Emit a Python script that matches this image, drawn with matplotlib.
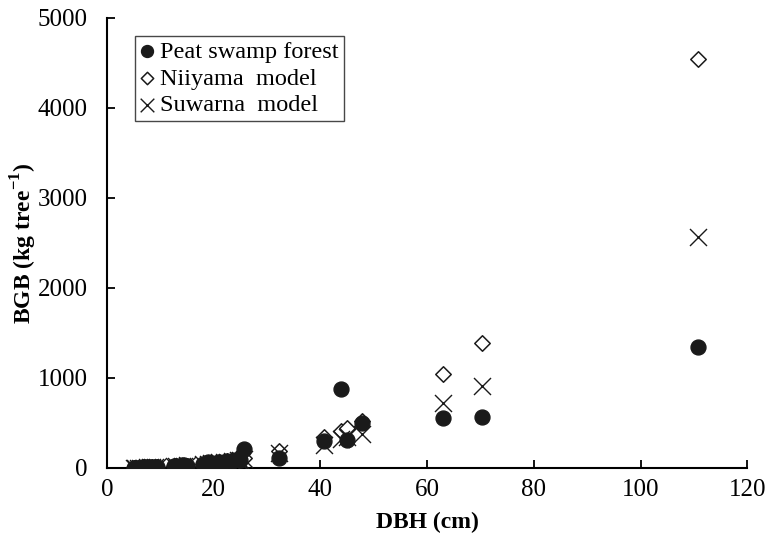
import matplotlib.pyplot as plt

# DBH (cm) of sampled trees
dbh = [5.0, 5.3, 5.8, 6.2, 6.8, 7.0, 7.5, 8.0, 8.4, 9.0, 9.4,
       12.5, 13.0, 14.0, 14.5, 15.0,
       18.0, 19.0, 19.5, 20.5, 21.0, 22.0, 22.5, 23.5, 24.5, 25.0, 25.7,
       32.3, 40.7, 43.9, 45.0, 47.7, 62.9, 70.2, 110.7]

# BGB (kg tree-1)
peat = [3, 4, 5, 4, 6, 7, 6, 9, 8, 12, 10,
        22, 25, 28, 30, 26,
        45, 70, 60, 55, 72, 65, 80, 78, 95, 85, 208,
        115, 303, 880, 311, 497, 560, 567, 1344]
niiyama = [1.6, 1.8, 2.3, 2.7, 3.5, 3.7, 4.5, 5.3, 6.0, 7.1, 8.0,
           17, 18, 22, 24, 27,
           42, 49, 52, 59, 63, 71, 75, 84, 94, 99, 106,
           190, 345, 411, 441, 520, 1045, 1390, 4540]
suwarna = [2.4, 2.7, 3.4, 3.9, 4.8, 5.1, 6.0, 6.9, 7.7, 9.0, 10,
           19, 21, 24, 26, 28,
           43, 48, 51, 57, 61, 67, 71, 78, 86, 90, 96,
           167, 256, 320, 340, 375, 720, 915, 2570]

plt.rcParams["font.family"] = "Liberation Serif"
plt.rcParams["mathtext.fontset"] = "custom"
plt.rcParams["mathtext.rm"] = "Liberation Serif"
plt.rcParams["mathtext.bf"] = "Liberation Serif:bold"

fig = plt.figure(figsize=(7.67, 5.45), dpi=100)
ax = fig.add_axes([0.1395, 0.1413, 0.835, 0.826])

ax.scatter(dbh, niiyama, marker="D", s=62, facecolor="white", edgecolor="#1a1a1a",
           linewidth=1.1, label="Niiyama  model", zorder=2)
ax.scatter(dbh, suwarna, marker="x", s=150, color="#1a1a1a", linewidth=1.0,
           label="Suwarna  model", zorder=3)
ax.scatter(dbh, peat, marker="o", s=115, color="#1a1a1a", label="Peat swamp forest",
           zorder=4)

ax.set_xlim(0, 120)
ax.set_ylim(0, 5000)
ax.set_xticks(range(0, 121, 20))
ax.set_yticks(range(0, 5001, 1000))

for side in ["top", "right"]:
    ax.spines[side].set_visible(False)
for side in ["left", "bottom"]:
    ax.spines[side].set_linewidth(1.5)
ax.tick_params(direction="in", length=6, width=1.3, labelsize=18, pad=8)
ax.tick_params(axis="y", pad=14)

ax.set_xlabel("DBH (cm)", fontsize=17, fontweight="bold", labelpad=8)
ax.set_ylabel("BGB (kg tree$^{\\mathbf{-1}}$)", fontsize=17, fontweight="bold")
ax.yaxis.set_label_coords(-0.106, 0.5)

handles, labels = ax.get_legend_handles_labels()
order = [2, 0, 1]
leg = ax.legend([handles[i] for i in order], [labels[i] for i in order],
                loc="upper left", bbox_to_anchor=(0.043, 0.96), fontsize=17.5,
                frameon=True, fancybox=False, edgecolor="#1a1a1a", markerscale=0.8,
                handlelength=0.65, handletextpad=0.2, borderpad=0.2,
                labelspacing=0.2, borderaxespad=0)
leg.get_frame().set_linewidth(1.0)

fig.savefig("out.png", dpi=100)
